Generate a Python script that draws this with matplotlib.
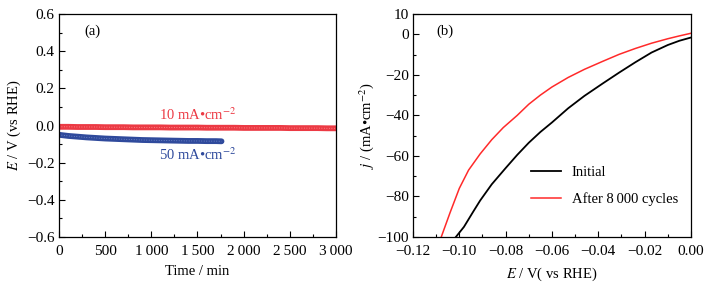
import matplotlib
matplotlib.use("Agg")
import matplotlib.pyplot as plt
import numpy as np
from matplotlib.ticker import MultipleLocator, FixedLocator, FixedFormatter

plt.rcParams['font.family'] = ['Liberation Serif', 'DejaVu Serif']
plt.rcParams['mathtext.fontset'] = 'stix'
plt.rcParams['axes.unicode_minus'] = True

# Panel (a): chronopotentiometry
t_10 = [0, 100, 200, 300, 400, 500, 600, 700, 800, 900, 1000, 1100, 1200, 1300, 1400, 1500,
        1600, 1700, 1800, 1900, 2000, 2100, 2200, 2300, 2400, 2500, 2600, 2700, 2800, 2900, 3000]
E_10 = [-0.007, -0.007, -0.008, -0.008, -0.008, -0.009, -0.009, -0.009, -0.010, -0.010, -0.010,
        -0.010, -0.011, -0.011, -0.011, -0.011, -0.012, -0.012, -0.012, -0.012, -0.013, -0.013,
        -0.013, -0.013, -0.013, -0.014, -0.014, -0.014, -0.014, -0.015, -0.015]
t_50 = [0, 50, 100, 200, 300, 400, 500, 600, 700, 800, 900, 1000, 1100, 1200, 1300, 1400,
        1500, 1600, 1700, 1760]
E_50 = [-0.050, -0.053, -0.056, -0.060, -0.064, -0.067, -0.070, -0.072, -0.074, -0.076,
        -0.078, -0.079, -0.080, -0.081, -0.082, -0.083, -0.083, -0.084, -0.084, -0.085]
a_xticks = [0, 500, 1000, 1500, 2000, 2500, 3000]
a_xticklabels = ["0", "500", "1\u2009000", "1\u2009500", "2\u2009000", "2\u2009500", "3\u2009000"]
a_yticks = [0.6, 0.4, 0.2, 0.0, -0.2, -0.4, -0.6]
a_yticklabels = ["0.6", "0.4", "0.2", "0.0", "\u22120.2", "\u22120.4", "\u22120.6"]

# Panel (b): polarization curves
E_init = [-0.1015, -0.098, -0.094, -0.091, -0.086, -0.080, -0.075, -0.070, -0.065, -0.060,
          -0.053, -0.046, -0.038, -0.031, -0.024, -0.017, -0.010, -0.005, 0.000]
j_init = [-100, -95, -87.5, -82, -74, -66, -59.5, -53.5, -48.2, -43.5,
          -36.5, -30.4, -24.2, -18.9, -13.8, -9.0, -5.3, -3.2, -1.6]
E_after = [-0.1078, -0.104, -0.100, -0.096, -0.091, -0.086, -0.081, -0.075, -0.070, -0.065,
           -0.060, -0.053, -0.046, -0.038, -0.031, -0.024, -0.017, -0.010, -0.005, 0.000]
j_after = [-100, -88, -76, -67, -59, -52, -46, -40, -34.5, -30,
           -26, -21.3, -17.3, -13.3, -9.9, -7.0, -4.4, -2.2, -0.8, 0.5]
b_xticks = [-0.12, -0.10, -0.08, -0.06, -0.04, -0.02, 0.00]
b_xticklabels = ["\u22120.12", "\u22120.10", "\u22120.08", "\u22120.06", "\u22120.04", "\u22120.02", "0.00"]
b_yticks = [10, 0, -20, -40, -60, -80, -100]
b_yticklabels = ["10", "0", "\u221220", "\u221240", "\u221260", "\u221280", "\u2212100"]

fs_tick = 11
fs_lab = 10.5
fs_txt = 10.5
red_a = '#ec3a44'
blue_a = '#2f4a9c'

fig = plt.figure(figsize=(7.09, 2.86), dpi=100)
ax1 = fig.add_axes([0.0832, 0.1713, 0.3907, 0.7797])
ax2 = fig.add_axes([0.5825, 0.1713, 0.3920, 0.7797])

# (a)
ax1.plot(t_10, E_10, color=red_a, lw=4.2, solid_capstyle='round')
ax1.plot(t_10, E_10, color='#ff9a9a', lw=0.6, ls=(0, (1, 2)))
ax1.plot(t_50, E_50, color=blue_a, lw=4.2, solid_capstyle='round')
ax1.plot(t_50, E_50, color='#8093d0', lw=0.6, ls=(0, (1, 2)))
ax1.set_xlim(0, 3000)
ax1.set_ylim(-0.6, 0.6)
ax1.xaxis.set_major_locator(FixedLocator(a_xticks))
ax1.xaxis.set_major_formatter(FixedFormatter(a_xticklabels))
ax1.yaxis.set_major_locator(FixedLocator(a_yticks))
ax1.yaxis.set_major_formatter(FixedFormatter(a_yticklabels))
ax1.xaxis.set_minor_locator(MultipleLocator(250))
ax1.yaxis.set_minor_locator(MultipleLocator(0.1))
ax1.set_xlabel("Time / min", fontsize=fs_lab, labelpad=5)
ax1.set_ylabel(r"$E$ / V (vs RHE)", fontsize=fs_lab, labelpad=3)
ax1.text(0.09, 0.905, "(a)", transform=ax1.transAxes, fontsize=fs_txt)
ax1.text(0.5, 0.55, "10 mA\u2022cm$^{-2}$", transform=ax1.transAxes, fontsize=fs_txt,
         color=red_a, ha='center', va='center')
ax1.text(0.5, 0.368, "50 mA\u2022cm$^{-2}$", transform=ax1.transAxes, fontsize=fs_txt,
         color=blue_a, ha='center', va='center')

# (b)
ax2.plot(E_init, j_init, color='black', lw=1.3, label='Initial')
ax2.plot(E_after, j_after, color='#ff2a2a', lw=1.1, label='After 8\u2009000 cycles')
ax2.set_xlim(-0.12, 0.0)
ax2.set_ylim(-100, 10)
ax2.xaxis.set_major_locator(FixedLocator(b_xticks))
ax2.xaxis.set_major_formatter(FixedFormatter(b_xticklabels))
ax2.yaxis.set_major_locator(FixedLocator(b_yticks))
ax2.yaxis.set_major_formatter(FixedFormatter(b_yticklabels))
ax2.xaxis.set_minor_locator(MultipleLocator(0.01))
ax2.yaxis.set_minor_locator(MultipleLocator(10))
ax2.set_xlabel(r"$E$ / V( vs RHE)", fontsize=fs_lab, labelpad=5)
ax2.set_ylabel("$j$ / (mA\u2022cm$^{-2}$)", fontsize=fs_lab, labelpad=1)
ax2.text(0.085, 0.905, "(b)", transform=ax2.transAxes, fontsize=fs_txt)
ax2.legend(loc='lower right', bbox_to_anchor=(1.0, 0.08), frameon=False, fontsize=fs_txt,
           handlelength=2.1, handletextpad=0.7, labelspacing=0.9)

for ax in (ax1, ax2):
    ax.tick_params(which='major', direction='in', length=4, width=0.8, labelsize=fs_tick,
                   top=False, right=False)
    ax.tick_params(axis='x', which='major', pad=6)
    ax.tick_params(axis='y', which='major', pad=3)
    ax.tick_params(which='minor', direction='in', length=2, width=0.8, top=False, right=False)
    for s in ax.spines.values():
        s.set_linewidth(0.9)

fig.savefig("out.png", dpi=100)
